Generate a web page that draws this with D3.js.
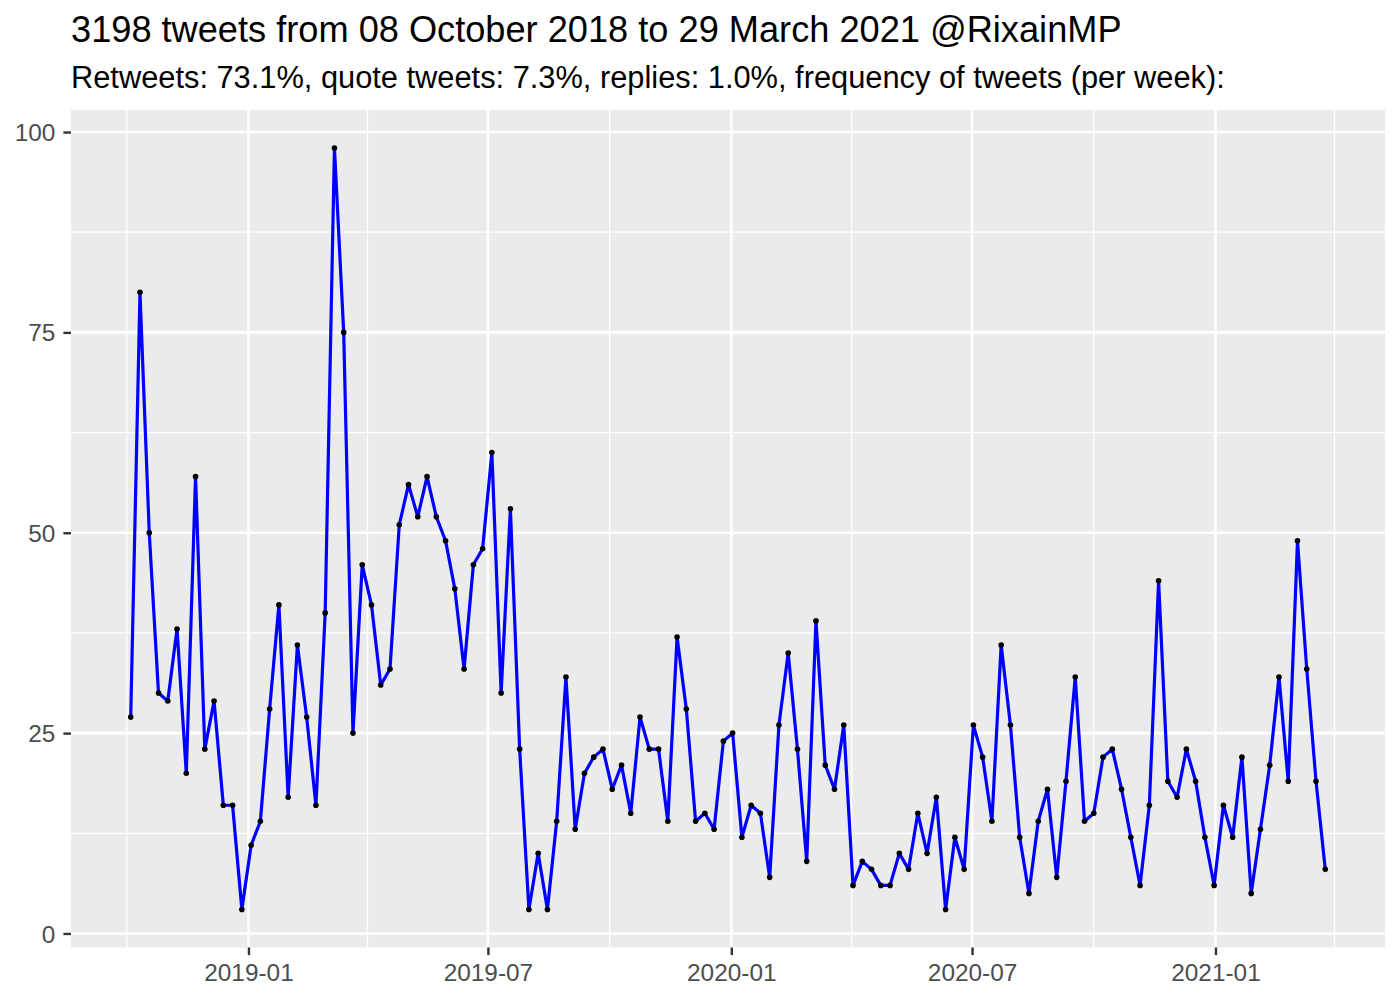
<!DOCTYPE html>
<html>
<head>
<meta charset="utf-8">
<script src="https://cdn.jsdelivr.net/npm/d3@7"></script>
<style>
  html, body { margin: 0; padding: 0; background: #ffffff; }
  svg { display: block; font-family: "Liberation Sans", Arial, Helvetica, sans-serif; }
</style>
</head>
<body>
<svg id="chart" width="1400" height="1000"></svg>
<script>
// ---- data ----
const titleText = "3198 tweets from 08 October 2018 to 29 March 2021 @RixainMP";
const subtitleText = "Retweets: 73.1%, quote tweets: 7.3%, replies: 1.0%, frequency of tweets (per week):";
const firstWeek = "2018-10-04";
const weeklyCounts = [
  27, 80, 50, 30, 29, 38, 20, 57, 23, 29,
  16, 16, 3, 11, 14, 28, 41, 17, 36, 27,
  16, 40, 98, 75, 25, 46, 41, 31, 33, 51,
  56, 52, 57, 52, 49, 43, 33, 46, 48, 60,
  30, 53, 23, 3, 10, 3, 14, 32, 13, 20,
  22, 23, 18, 21, 15, 27, 23, 23, 14, 37,
  28, 14, 15, 13, 24, 25, 12, 16, 15, 7,
  26, 35, 23, 9, 39, 21, 18, 26, 6, 9,
  8, 6, 6, 10, 8, 15, 10, 17, 3, 12,
  8, 26, 22, 14, 36, 26, 12, 5, 14, 18,
  7, 19, 32, 14, 15, 22, 23, 18, 12, 6,
  16, 44, 19, 17, 23, 19, 12, 6, 16, 12,
  22, 5, 13, 21, 32, 19, 49, 33, 19, 8
];
const xTickDates = ["2019-01-01", "2019-07-01", "2020-01-01", "2020-07-01", "2021-01-01"];
const xTickLabels = ["2019-01", "2019-07", "2020-01", "2020-07", "2021-01"];
const xMinorDates = ["2018-10-01", "2019-04-01", "2019-10-01", "2020-04-01", "2020-10-01", "2021-04-01"];
const yTicks = [0, 25, 50, 75, 100];
const yMinor = [12.5, 37.5, 62.5, 87.5];

// ---- layout ----
const panel = { left: 71, right: 1385, top: 110, bottom: 947.5 };
const parse = d3.utcParse("%Y-%m-%d");
const start = parse(firstWeek);
const data = weeklyCounts.map((v, i) => ({ date: d3.utcDay.offset(start, 7 * i), n: v }));

const xExt = d3.extent(data, d => d.date);
const xPad = (xExt[1] - xExt[0]) * 0.05;
const x = d3.scaleUtc()
  .domain([new Date(+xExt[0] - xPad), new Date(+xExt[1] + xPad)])
  .range([panel.left, panel.right]);
const yExt = d3.extent(data, d => d.n);
const yPad = (yExt[1] - yExt[0]) * 0.05;
const y = d3.scaleLinear()
  .domain([yExt[0] - yPad, yExt[1] + yPad])
  .range([panel.bottom, panel.top]);

const svg = d3.select("#chart");

// panel background
svg.append("rect")
  .attr("x", panel.left).attr("y", panel.top)
  .attr("width", panel.right - panel.left).attr("height", panel.bottom - panel.top)
  .attr("fill", "#EBEBEB");

const grid = svg.append("g");
// minor grid
grid.selectAll(".ymin").data(yMinor).enter().append("line")
  .attr("x1", panel.left).attr("x2", panel.right)
  .attr("y1", d => y(d)).attr("y2", d => y(d))
  .attr("stroke", "#fff").attr("stroke-width", 1.3);
grid.selectAll(".xmin").data(xMinorDates.map(parse)).enter().append("line")
  .attr("y1", panel.top).attr("y2", panel.bottom)
  .attr("x1", d => x(d)).attr("x2", d => x(d))
  .attr("stroke", "#fff").attr("stroke-width", 1.3);
// major grid
grid.selectAll(".ymaj").data(yTicks).enter().append("line")
  .attr("x1", panel.left).attr("x2", panel.right)
  .attr("y1", d => y(d)).attr("y2", d => y(d))
  .attr("stroke", "#fff").attr("stroke-width", 2.6);
grid.selectAll(".xmaj").data(xTickDates.map(parse)).enter().append("line")
  .attr("y1", panel.top).attr("y2", panel.bottom)
  .attr("x1", d => x(d)).attr("x2", d => x(d))
  .attr("stroke", "#fff").attr("stroke-width", 2.6);

// axes
const xAxis = d3.axisBottom(x)
  .tickValues(xTickDates.map(parse))
  .tickFormat((d, i) => xTickLabels[i])
  .tickSize(7.6).tickPadding(6);
const gx = svg.append("g").attr("transform", `translate(0,${panel.bottom})`).call(xAxis);
const yAxis = d3.axisLeft(y).tickValues(yTicks).tickSize(7.6).tickPadding(8);
const gy = svg.append("g").attr("transform", `translate(${panel.left},0)`).call(yAxis);
[gx, gy].forEach(g => {
  g.select(".domain").remove();
  g.selectAll(".tick line").attr("stroke", "#333333").attr("stroke-width", 2.4);
  g.selectAll(".tick text").attr("fill", "#4D4D4D")
    .style("font-family", '"Liberation Sans", Arial, sans-serif').style("font-size", "24.4px");
});
gx.selectAll(".tick text").attr("dy", null).attr("y", 0)
  .attr("transform", "translate(0,33)");
gy.selectAll(".tick text").attr("dy", "0.35em");

// line + points
const line = d3.line().x(d => x(d.date)).y(d => y(d.n));
svg.append("path").datum(data)
  .attr("d", line).attr("fill", "none")
  .attr("stroke", "#0000FF").attr("stroke-width", 3.2)
  .attr("stroke-linejoin", "round");
svg.append("g").selectAll("circle").data(data).enter().append("circle")
  .attr("cx", d => x(d.date)).attr("cy", d => y(d.n))
  .attr("r", 2.8).attr("fill", "#000");

// titles
svg.append("text").attr("x", panel.left).attr("y", 42)
  .attr("fill", "#000").style("font-size", "36.2px").text(titleText);
svg.append("text").attr("x", panel.left).attr("y", 88.3)
  .attr("fill", "#000").style("font-size", "30.8px").text(subtitleText);
</script>
</body>
</html>
